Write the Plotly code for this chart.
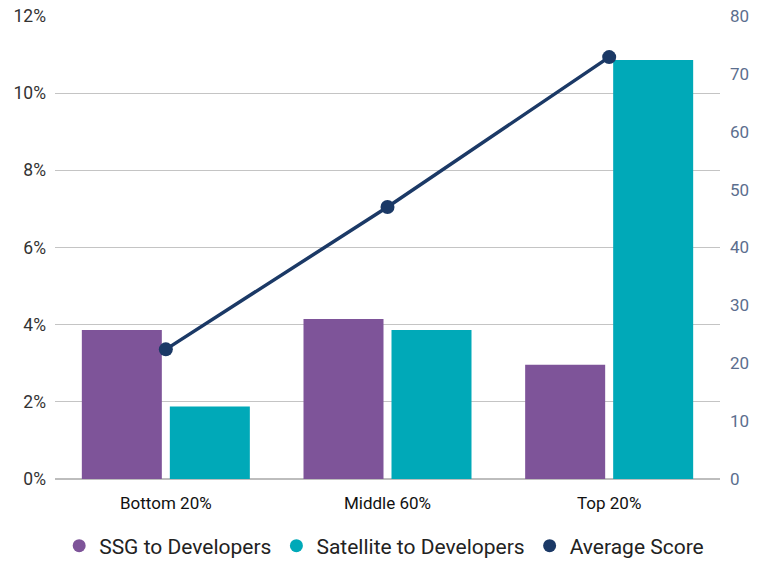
import plotly.graph_objects as go

categories = ["Bottom 20%", "Middle 60%", "Top 20%"]
ssg_to_dev = [0.0386, 0.0415, 0.0296]
satellite_to_dev = [0.0188, 0.0386, 0.1086]
average_score = [22.4, 47.0, 72.9]

PURPLE = "#7e5499"
TEAL = "#00a9b8"
NAVY = "#1b3966"

fig = go.Figure()
fig.add_trace(go.Bar(x=categories, y=ssg_to_dev, name="SSG to Developers",
                     showlegend=False,
                     marker=dict(color=PURPLE, line=dict(width=0))))
fig.add_trace(go.Bar(x=categories, y=satellite_to_dev, name="Satellite to Developers",
                     showlegend=False,
                     marker=dict(color=TEAL, line=dict(width=0))))
fig.add_trace(go.Scatter(x=categories, y=average_score, name="Average Score", yaxis="y2",
                         mode="lines+markers", showlegend=False,
                         line=dict(color=NAVY, width=3.5),
                         marker=dict(color=NAVY, size=14)))

# legend-only entries with circular symbols
for name, col in [("SSG to Developers", PURPLE),
                  ("Satellite to Developers", TEAL),
                  ("Average Score", NAVY)]:
    fig.add_trace(go.Scatter(x=[None], y=[None], name=name, mode="markers",
                             marker=dict(color=col, size=13, symbol="circle")))

fig.update_layout(
    width=764, height=562,
    margin=dict(l=55, r=44, t=16, b=83, autoexpand=False),
    paper_bgcolor="white", plot_bgcolor="white",
    font=dict(family="Roboto, sans-serif", size=16, color="#333333"),
    barmode="group", bargap=0.206, bargroupgap=0.0909,
    showlegend=True,
    legend=dict(orientation="h", x=0.495, xanchor="center", y=-0.1447, yanchor="middle",
                font=dict(size=21, color="#222222"), itemsizing="trace",
                traceorder="normal"),
    xaxis=dict(showgrid=False, showline=False, ticks="", automargin=False,
               ticklabelstandoff=12,
               tickfont=dict(size=17, color="#111111")),
    yaxis=dict(range=[0, 0.12], dtick=0.02, tickformat=".0%", automargin=False,
               showgrid=True, gridcolor="#c4c4c4", gridwidth=1,
               zeroline=True, zerolinecolor="#bdbdbd", zerolinewidth=1.5,
               showline=False, ticks="", ticklabelstandoff=8,
               tickfont=dict(size=17.5, color="#333333")),
    yaxis2=dict(range=[0, 80], dtick=10, overlaying="y", side="right", automargin=False,
                showgrid=False, zeroline=False, showline=False, ticks="",
                ticklabelstandoff=9,
                tickfont=dict(size=17, color="#5b6e8e")),
)

fig.write_html("out.html", config={"displayModeBar": False},
               post_script="document.body.style.margin='0';document.body.style.overflow='hidden';")
